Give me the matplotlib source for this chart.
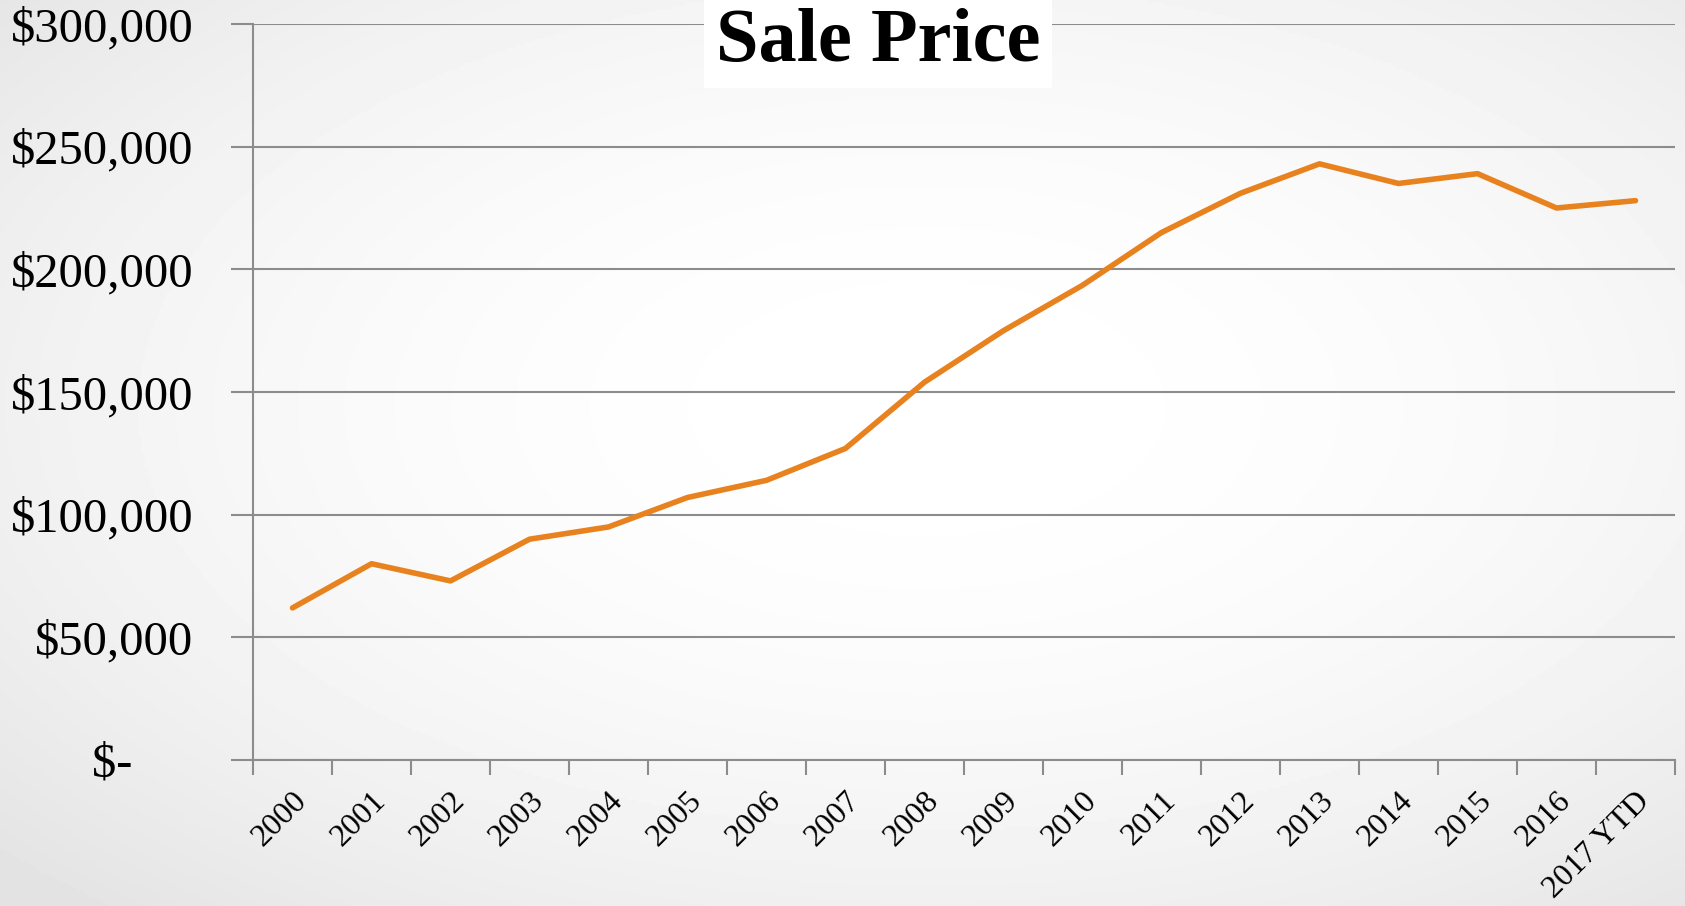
import numpy as np
import matplotlib
matplotlib.use('Agg')
import matplotlib.pyplot as plt

years = ['2000', '2001', '2002', '2003', '2004', '2005', '2006', '2007', '2008',
         '2009', '2010', '2011', '2012', '2013', '2014', '2015', '2016', '2017 YTD']
sale_price = [62000, 80000, 73000, 90000, 95000, 107000, 114000, 127000, 154000,
              175000, 193500, 215000, 231000, 243000, 235000, 239000, 225000, 228000]
y_ticks = [0, 50000, 100000, 150000, 200000, 250000, 300000]
y_labels = ['$-     ', '$50,000', '$100,000', '$150,000', '$200,000', '$250,000', '$300,000']

plt.rcParams['font.family'] = ['Liberation Serif', 'DejaVu Serif']

fig = plt.figure(figsize=(16.85, 9.06), dpi=100)

# soft radial background
bg = fig.add_axes([0, 0, 1, 1], zorder=-10)
yy, xx = np.mgrid[0:1:300j, 0:1:560j]
r = np.sqrt(((xx - 0.55) / 0.75) ** 2 + ((yy - 0.45) / 0.75) ** 2)
shade = 1.0 - 0.11 * np.clip(r, 0, 1) ** 2
bg.imshow(shade, cmap='gray', vmin=0, vmax=1, aspect='auto', extent=[0, 1, 0, 1])
bg.axis('off')

ax = fig.add_axes([253 / 1685, 1 - 760 / 906, (1675 - 253) / 1685, (760 - 24) / 906])
ax.set_facecolor('none')
x = np.arange(len(years))
ax.plot(x, sale_price, color='#e8821e', lw=4, solid_capstyle='round', zorder=3)

ax.set_xlim(-0.5, len(years) - 0.5)
ax.set_ylim(0, 300000)
ax.set_yticks(y_ticks)
ax.set_yticklabels(y_labels, fontsize=35)
ax.yaxis.grid(True, color='#8c8c8c', lw=1.5)
ax.tick_params(axis='y', length=16, width=1.5, color='#8c8c8c', pad=27)

ax.set_xticks(x)
ax.set_xticklabels(years, fontsize=23, rotation=45, ha='right', rotation_mode='anchor')
ax.set_xticks(np.arange(len(years) + 1) - 0.5, minor=True)
ax.tick_params(axis='x', which='major', length=0, pad=19)
ax.tick_params(axis='x', which='minor', length=11, width=1.5, color='#8c8c8c')

for s in ['top', 'right']:
    ax.spines[s].set_visible(False)
for s in ['left', 'bottom']:
    ax.spines[s].set_color('#8c8c8c')
    ax.spines[s].set_linewidth(1.5)

fig.text(878 / 1685, 1 - 42 / 906, 'Sale Price', fontsize=55, fontweight='bold',
         ha='center', va='center',
         bbox=dict(facecolor='white', edgecolor='none', boxstyle='square,pad=0.15'))

fig.savefig('out.png', dpi=100)
